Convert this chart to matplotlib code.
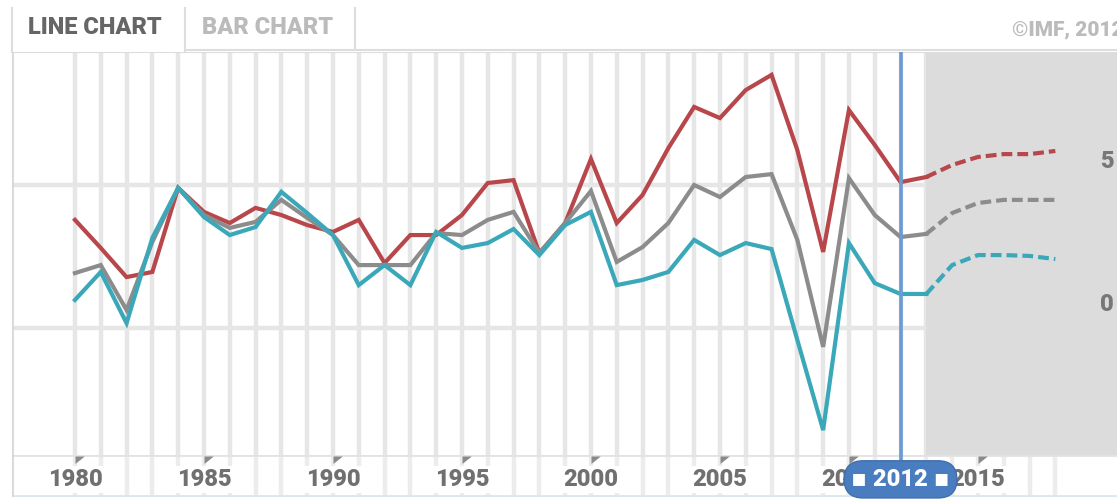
import numpy as np
import matplotlib.pyplot as plt
from matplotlib.lines import Line2D

years = np.arange(1980, 2019)
last_actual = 2012
first_projection = 2013

advanced = [3.78, 2.80, 1.78, 1.96, 4.90, 4.06, 3.67, 4.20, 3.95, 3.60,
            3.36, 3.78, 2.27, 3.25, 3.25, 3.95, 5.07, 5.17, 2.62, 3.67,
            5.91, 3.67, 4.65, 6.29, 7.73, 7.34, 8.32, 8.85, 6.22, 2.66,
            7.62, 6.40, 5.10, 5.28, 5.70, 5.98, 6.08, 6.08, 6.19]
world = [1.92, 2.20, 0.63, 3.01, 4.90, 3.95, 3.50, 3.71, 4.48, 3.85,
         3.25, 2.20, 2.20, 2.20, 3.32, 3.25, 3.78, 4.06, 2.62, 3.67,
         4.79, 2.31, 2.83, 3.67, 5.00, 4.58, 5.28, 5.38, 3.08, -0.66,
         5.24, 3.95, 3.18, 3.29, 4.02, 4.37, 4.48, 4.48, 4.48]
emerging = [0.98, 1.96, 0.17, 3.15, 4.90, 3.88, 3.25, 3.53, 4.76, 4.02,
            3.25, 1.50, 2.20, 1.50, 3.36, 2.80, 2.97, 3.46, 2.55, 3.60,
            4.06, 1.50, 1.68, 1.96, 3.08, 2.55, 2.97, 2.76, -0.42, -3.57,
            2.97, 1.57, 1.19, 1.19, 2.20, 2.55, 2.55, 2.52, 2.41]

series = [
    (advanced, "#b8474c"),
    (world, "#8c8c8c"),
    (emerging, "#3ba8b9"),
]

tick_years = [1980, 1985, 1990, 1995, 2000, 2005, 2010, 2015]
y_gridlines = [0, 5]

plt.rcParams["font.family"] = ["Roboto", "DejaVu Sans"]
txt = dict(fontweight="black")

W, H = 1117, 500
fig = plt.figure(figsize=(W / 100, H / 100), dpi=100)

x_min, x_max = 1977.56, 2020.39
grid_color = "#e6e6e6"

# main plot area
ax = fig.add_axes([12 / W, 45 / H, (W - 12) / W, 403 / H])
ax.set_xlim(x_min, x_max)
ax.set_ylim(-4.44, 9.65)
ax.axis("off")

for yr in years:
    ax.axvline(yr, color=grid_color, lw=3.2, zorder=1)
ax.hlines(y_gridlines, x_min, first_projection, color=grid_color, lw=3.2, zorder=1)
ax.axvspan(first_projection, x_max, color="#dcdcdc", zorder=2, lw=0)

years_arr = np.array(years)
actual = years_arr <= first_projection
proj = years_arr >= first_projection
for values, color in series:
    v = np.array(values)
    ax.plot(years_arr[actual], v[actual], color=color, lw=3.0, zorder=4,
            solid_joinstyle="miter")
    ax.plot(years_arr[proj], v[proj], color=color, lw=3.0, zorder=4,
            linestyle=(0, (2.6, 1.2)))

for val in y_gridlines:
    ax.text(2019.75, val + 0.82, str(val), color="#777777", fontsize=17,
            va="center", ha="left", zorder=5, **txt)

ax.axvline(last_actual, color="#6b9bd2", lw=2.6, zorder=6)

# frame lines
ax.axhline(ax.get_ylim()[1], color="#dddddd", lw=1.5, zorder=3)
ax.axvline(x_min, color="#d8d8d8", lw=2, zorder=3)

# tick area
ax2 = fig.add_axes([12 / W, 3 / H, (W - 12) / W, 42 / H])
ax2.set_xlim(x_min, x_max)
ax2.set_ylim(0, 1)
ax2.axis("off")
for yr in years:
    ax2.axvline(yr, color="#ececec", lw=3.2, zorder=1)
ax2.axvline(last_actual, ymin=0.45, color="#6b9bd2", lw=2.6, zorder=3)
ax2.axhline(1, color="#e2e2e2", lw=2, zorder=2)
ax2.axhline(0.02, color="#dde6ee", lw=2, zorder=2)
ax2.axvline(x_min, color="#d8d8d8", lw=2, zorder=2)

tri = [(0, 0), (1, 0), (0, -0.8)]
ax2.scatter(tick_years, [0.98] * len(tick_years), marker=tri, s=180,
            color="#8a8a8a", lw=0, zorder=4)
for yr in tick_years:
    ax2.text(yr, 0.42, str(yr), color="#707070", fontsize=17,
             ha="center", va="center", zorder=3,
             bbox=dict(facecolor="white", edgecolor="none", pad=1.5), **txt)
ax2.text(last_actual, 0.42, "\u25aa 2012 \u25aa", color="white", fontsize=17,
         ha="center", va="center", zorder=5,
         bbox=dict(boxstyle="round,pad=0.3,rounding_size=0.8",
                   facecolor="#4a7dbf", edgecolor="#3f6fae", lw=1), **txt)

# header tabs
fig.add_artist(Line2D([12 / W, 12 / W], [1 - 8 / H, 1 - 52 / H], color="#dddddd", lw=1.5))
fig.add_artist(Line2D([185 / W, 185 / W], [1 - 8 / H, 1 - 52 / H], color="#dddddd", lw=1.5))
fig.add_artist(Line2D([355 / W, 355 / W], [1 - 8 / H, 1 - 50 / H], color="#dddddd", lw=1.5))
fig.add_artist(Line2D([185 / W, 1], [1 - 50 / H, 1 - 50 / H], color="#dddddd", lw=1.5))
fig.text(95 / W, 1 - 28 / H, "LINE CHART", color="#666666", fontsize=17,
         ha="center", va="center", **txt)
fig.text(268 / W, 1 - 28 / H, "BAR CHART", color="#bbbbbb", fontsize=17,
         ha="center", va="center", **txt)
fig.text(1012 / W, 1 - 30 / H, "\u00a9IMF, 2012", color="#bbbbbb", fontsize=15,
         ha="left", va="center", **txt)

plt.savefig("out.png", dpi=100)
